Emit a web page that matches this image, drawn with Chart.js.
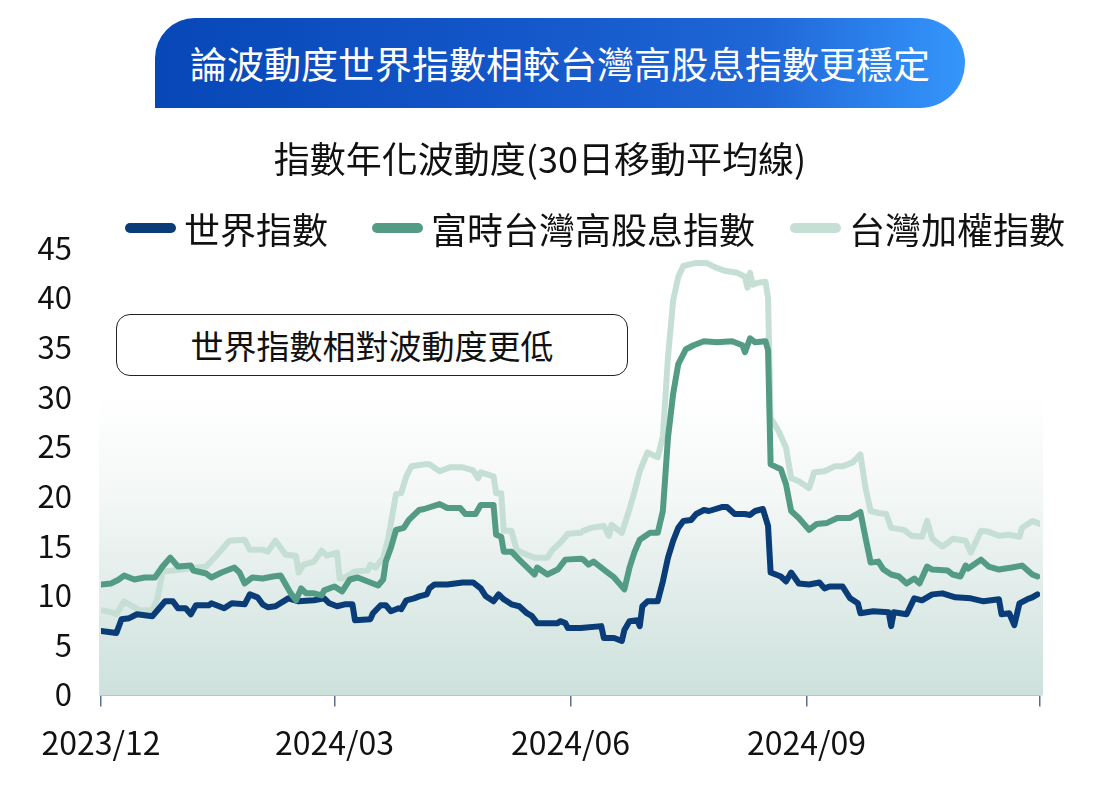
<!DOCTYPE html>
<html lang="zh-Hant">
<head>
<meta charset="utf-8">
<script src="https://cdn.jsdelivr.net/npm/chart.js@4.4.1/dist/chart.umd.min.js"></script>
<style>
  html, body { margin: 0; padding: 0; background: #ffffff; }
  body { width: 1120px; height: 801px; overflow: hidden; font-family: "Noto Sans CJK TC", "Noto Sans", sans-serif; }
  #wrap { position: relative; width: 1120px; height: 801px; }
  #chart { position: absolute; left: 0; top: 0; }
  .banner {
    position: absolute; left: 155px; top: 18px; width: 810px; height: 90px;
    border-radius: 40px 45px 45px 0;
    background: linear-gradient(90deg, #0747b7 0%, #1457ca 45%, #1f66d6 75%, #3596fc 100%);
    color: #ffffff; font-size: 37px; font-weight: 400;
    display: flex; align-items: center; justify-content: center; letter-spacing: 0px;
  }
  .subtitle {
    position: absolute; left: 0; width: 1080px; top: 135px; text-align: center;
    font-size: 36px; color: #111; line-height: 44px;
  }
  .leg { position: absolute; top: 207px; height: 42px; display: flex; align-items: center; font-size: 36px; color: #111; }
  .leg .sw { width: 51px; height: 10px; border-radius: 5px; margin-right: 8px; }
  .note {
    position: absolute; left: 116px; top: 314px; width: 510px; height: 60px;
    border: 1.5px solid #222; border-radius: 14px; background: #fff;
    display: flex; align-items: center; justify-content: center;
    font-size: 33px; color: #111;
  }
</style>
</head>
<body>
<div id="wrap">
  <canvas id="chart" width="1120" height="801"></canvas>
  <div class="banner">論波動度世界指數相較台灣高股息指數更穩定</div>
  <div class="subtitle">指數年化波動度(30日移動平均線)</div>
  <div id="legend"></div>
  <div class="note">世界指數相對波動度更低</div>
</div>
<script>
// ---- data (x = calendar days since 2023/12/01, y = annualized volatility %) ----
const seriesNames = ['世界指數', '富時台灣高股息指數', '台灣加權指數'];
const seriesColors = ['#0a3d78', '#549b85', '#c6dfd5'];
const tickDays = [0, 91, 183, 275, 366];
const tickLabels = ['2023/12', '2024/03', '2024/06', '2024/09', ''];
const yTicks = [0, 5, 10, 15, 20, 25, 30, 35, 40, 45];

const worldSeries = [
  [0,6.4],[6,6.2],[8,7.6],[11,7.7],[14,8.1],[20,7.9],[25,9.4],[28,9.4],[30,8.7],[33,8.7],
  [35,8.1],[37,9.0],[42,9.0],[43,9.2],[48,8.7],[51,9.2],[56,9.1],[58,10.1],[61,9.8],[63,9.1],
  [65,8.8],[68,8.9],[73,9.7],[77,9.4],[83,9.5],[87,9.7],[89,9.2],[92,8.9],[95,9.1],[98,9.1],
  [99,7.5],[105,7.6],[106,8.2],[109,9.0],[111,9.0],[113,8.4],[116,8.7],[117,8.6],[119,9.5],[122,9.7],
  [124,9.9],[127,10.1],[128,10.7],[130,11.1],[135,11.1],[141,11.3],[145,11.3],[148,10.7],[150,9.9],[153,9.4],
  [155,10.1],[157,9.6],[160,9.1],[163,8.9],[166,8.2],[168,7.9],[170,7.2],[178,7.2],[179,7.4],[181,7.2],
  [182,6.7],[187,6.7],[195,6.9],[196,5.7],[200,5.7],[203,5.4],[204,6.5],[206,7.4],[209,7.5],[210,6.9],
  [211,8.9],[213,9.4],[217,9.4],[219,11.4],[221,13.8],[223,15.5],[225,16.8],[227,17.5],[230,17.6],[232,18.2],
  [235,18.6],[237,18.5],[242,18.9],[244,18.9],[247,18.2],[251,18.2],[253,18.1],[255,18.5],[258,18.7],[260,17.0],
  [261,12.3],[265,11.9],[267,11.4],[269,12.3],[272,11.2],[276,11.1],[280,11.3],[282,10.7],[284,10.9],[289,10.9],
  [292,9.7],[295,9.2],[296,8.2],[301,8.4],[307,8.3],[308,6.9],[309,8.3],[314,8.1],[317,9.7],[320,9.5],
  [324,10.1],[328,10.2],[333,9.8],[339,9.7],[344,9.4],[350,9.6],[351,8.1],[354,8.2],[356,7.0],[358,9.2],
  [361,9.6],[363,9.8],[365,10.1]
];

const ftseSeries = [
  [0,11.1],[4,11.2],[7,11.6],[9,12.0],[13,11.6],[17,11.8],[21,11.8],[24,12.9],[27,13.8],[30,12.9],
  [35,13.0],[36,12.5],[41,12.2],[43,11.8],[47,12.3],[52,12.8],[54,12.3],[56,11.2],[59,11.8],[63,11.7],
  [67,11.9],[70,12.0],[72,11.1],[74,10.2],[76,9.5],[78,10.7],[80,10.2],[83,10.2],[86,10.0],[87,10.5],
  [91,10.9],[94,10.4],[97,11.6],[100,11.8],[104,11.4],[108,11.0],[110,11.6],[111,13.4],[113,14.8],[115,16.6],
  [118,16.8],[120,17.6],[124,18.6],[126,18.7],[132,19.2],[135,18.8],[140,18.8],[142,18.2],[146,18.2],[148,19.1],
  [153,19.1],[154,16.1],[156,15.9],[157,14.4],[160,14.4],[163,13.6],[167,12.6],[169,12.1],[170,12.8],[174,12.1],
  [178,12.6],[181,13.6],[187,13.7],[188,13.6],[190,13.1],[192,13.4],[197,12.4],[200,11.8],[204,10.6],[206,12.8],
  [208,14.4],[210,15.6],[214,16.3],[217,16.3],[219,18.5],[221,25.9],[223,30.3],[225,33.3],[228,34.8],[231,35.2],
  [235,35.6],[240,35.5],[246,35.6],[250,35.2],[251,34.5],[253,35.9],[255,35.5],[259,35.6],[260,34.7],[261,23.2],
  [265,22.7],[267,21.2],[269,18.5],[272,17.8],[276,16.6],[279,17.2],[283,17.3],[287,17.8],[292,17.8],[296,18.4],
  [298,15.8],[300,13.3],[303,13.4],[305,12.6],[308,12.1],[311,11.9],[314,11.2],[317,11.7],[319,11.2],[322,12.9],
  [324,12.6],[330,12.5],[332,12.1],[335,11.9],[337,13.0],[338,12.7],[343,13.6],[346,12.9],[350,12.6],[355,12.8],
  [359,13.0],[363,12.1],[365,11.9]
];

const taiexSeries = [
  [0,8.5],[4,8.3],[6,8.1],[9,9.4],[11,9.1],[15,8.5],[20,8.5],[22,9.7],[24,12.4],[28,12.5],
  [34,12.7],[41,12.9],[46,14.3],[50,15.5],[56,15.6],[58,14.6],[63,14.6],[65,14.4],[68,15.5],[72,14.1],
  [76,14.0],[77,12.3],[79,13.1],[83,13.4],[86,14.5],[88,14.0],[92,14.3],[93,11.7],[95,11.8],[99,12.4],
  [104,12.5],[105,13.1],[107,12.8],[110,13.8],[112,15.8],[115,20.2],[117,20.3],[119,22.0],[121,23.0],[126,23.2],
  [128,23.2],[132,22.5],[136,22.9],[141,22.9],[145,22.6],[147,21.8],[148,22.4],[153,22.0],[154,20.3],[156,20.3],
  [157,16.5],[160,16.5],[162,14.6],[164,14.3],[169,13.8],[174,13.8],[176,14.6],[179,15.3],[182,16.2],[187,16.3],
  [188,16.5],[191,16.8],[196,17.0],[198,16.0],[199,17.1],[203,16.3],[206,18.7],[208,20.5],[210,22.5],[213,24.4],
  [217,23.9],[219,26.0],[221,34.0],[223,39.7],[225,42.1],[227,43.2],[232,43.5],[236,43.5],[239,43.1],[243,42.7],
  [248,42.5],[251,42.1],[252,41.0],[253,42.5],[254,41.3],[256,41.5],[259,41.6],[260,40.0],[261,27.9],[264,26.6],
  [267,24.9],[269,21.8],[272,21.5],[276,20.8],[278,22.4],[282,22.5],[286,23.0],[289,23.0],[293,23.4],[296,24.2],
  [298,20.8],[300,18.5],[303,18.3],[306,18.2],[308,16.8],[313,16.6],[316,16.0],[320,15.9],[322,17.5],[324,15.7],
  [326,15.3],[328,14.9],[332,15.7],[337,15.5],[339,14.3],[343,16.5],[346,16.4],[350,16.0],[354,16.1],[358,15.9],
  [359,16.8],[363,17.5],[366,17.2]
];

const allSeries = [worldSeries, ftseSeries, taiexSeries];
const drawOrder = [1, 0, 2]; // green on top, light at the bottom

// ---- HTML legend ----
const legendPos = [125, 372, 790];
const legendEl = document.getElementById('legend');
seriesNames.forEach((name, i) => {
  const d = document.createElement('div');
  d.className = 'leg';
  d.style.left = legendPos[i] + 'px';
  d.innerHTML = '<span class="sw" style="background:' + seriesColors[i] + '"></span><span>' + name + '</span>';
  legendEl.appendChild(d);
});

const bgPlugin = {
  id: 'plotBg',
  beforeDatasetsDraw(chart) {
    const { ctx, chartArea, scales } = chart;
    const top = scales.y.getPixelForValue(30.3);
    const bottom = chartArea.bottom + 1;
    const g = ctx.createLinearGradient(0, top, 0, bottom);
    g.addColorStop(0, '#ffffff');
    g.addColorStop(0.35, '#f3f7f6');
    g.addColorStop(1, '#cde1dc');
    ctx.save();
    ctx.fillStyle = g;
    ctx.fillRect(chartArea.left - 2, top, chartArea.right - chartArea.left + 5, bottom - top);
    ctx.restore();
  }
};

const FONT = '"Noto Sans CJK TC", "Noto Sans", sans-serif';

new Chart(document.getElementById('chart'), {
  type: 'line',
  data: {
    datasets: allSeries.map((s, i) => ({
      label: seriesNames[i],
      data: s.map(p => ({ x: p[0], y: p[1] })),
      borderColor: seriesColors[i],
      backgroundColor: seriesColors[i],
      borderWidth: 6,
      pointRadius: 0,
      tension: 0,
      borderJoinStyle: 'round',
      borderCapStyle: 'round',
      order: drawOrder[i],
      fill: false
    }))
  },
  options: {
    responsive: false,
    devicePixelRatio: 1,
    animation: false,
    layout: { padding: { top: 248, left: 37, right: 80, bottom: 22 } },
    plugins: {
      legend: { display: false },
      title: { display: false },
      tooltip: { enabled: false }
    },
    scales: {
      x: {
        type: 'linear',
        min: tickDays[0],
        max: tickDays[tickDays.length - 1],
        afterBuildTicks(scale) { scale.ticks = tickDays.map(v => ({ value: v })); },
        ticks: {
          callback: (v) => tickLabels[tickDays.indexOf(v)],
          font: { family: FONT, size: 32 },
          color: '#111',
          padding: 17,
          maxRotation: 0,
          autoSkip: false
        },
        grid: { display: true, drawOnChartArea: false, drawTicks: true, tickLength: 12, color: '#5a6f8c', lineWidth: 1.5 },
        border: { display: true, color: '#9a9a9a', width: 2 }
      },
      y: {
        min: 0, max: 45,
        afterBuildTicks(scale) { scale.ticks = yTicks.map(v => ({ value: v })); },
        afterFit(scale) { scale.width = 64; },
        ticks: {
          font: { family: FONT, size: 31 },
          color: '#111',
          padding: 29
        },
        grid: { display: false, drawTicks: false },
        border: { display: false }
      }
    }
  },
  plugins: [bgPlugin]
});
</script>
</body>
</html>
